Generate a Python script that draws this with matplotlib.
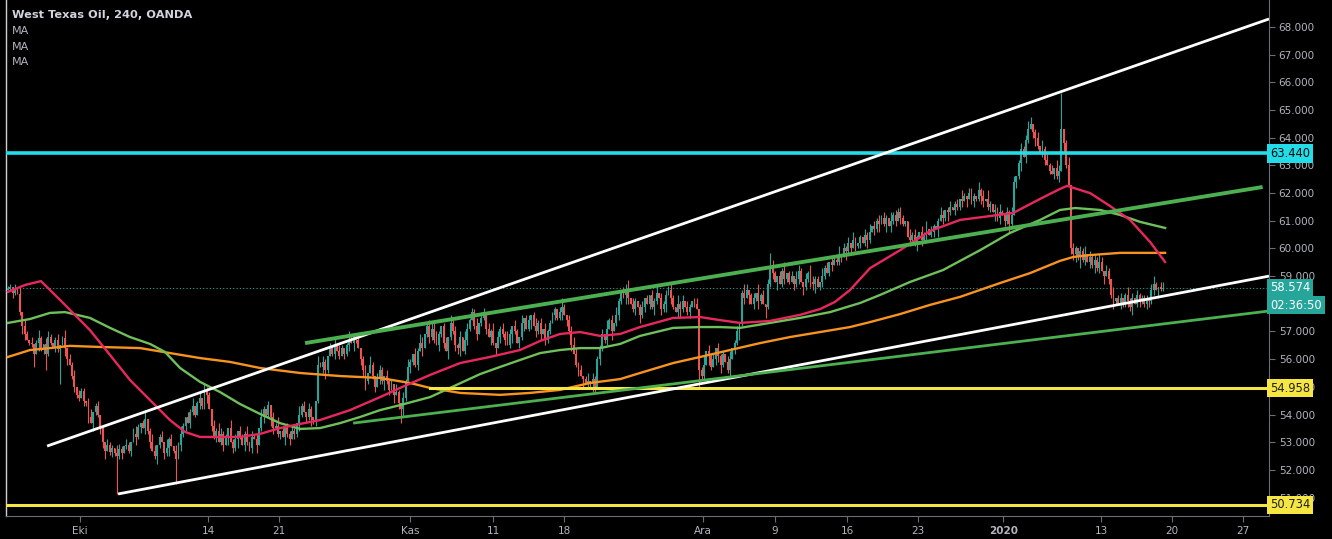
import numpy as np
import matplotlib
matplotlib.use("Agg")
import matplotlib.pyplot as plt
import matplotlib.transforms as mtransforms

# ---------------- data ----------------
title_text = "West Texas Oil, 240, OANDA"
legend_items = ["MA", "MA", "MA"]

# 4h closes, ten candles per row
closes_4h = [
    [58.55, 58.60, 58.40, 58.50, 58.35, 57.70, 57.20, 56.90, 56.70, 56.60],
    [56.55, 56.20, 56.60, 56.75, 56.40, 56.55, 56.20, 56.80, 56.60, 56.45],
    [56.70, 56.35, 56.50, 56.75, 56.40, 56.00, 55.80, 55.40, 55.00, 54.70],
    [54.60, 54.85, 54.50, 54.40, 53.90, 53.70, 54.10, 54.30, 54.00, 53.50],
    [53.00, 52.70, 52.90, 52.65, 52.80, 52.60, 52.50, 52.75, 52.60, 52.85],
    [52.90, 52.70, 53.00, 53.30, 53.20, 53.55, 53.70, 53.50, 53.85, 53.40],
    [53.00, 52.70, 52.50, 52.90, 53.20, 53.00, 52.60, 52.80, 53.10, 52.85],
    [52.70, 52.40, 52.90, 53.30, 53.60, 53.90, 53.70, 54.10, 54.30, 54.00],
    [54.40, 54.60, 54.30, 54.80, 54.70, 54.20, 53.60, 53.20, 53.40, 53.00],
    [53.30, 52.90, 53.20, 53.50, 53.00, 52.80, 53.10, 53.40, 53.20, 52.90],
    [53.30, 53.00, 52.80, 53.20, 53.10, 52.90, 53.50, 53.90, 54.20, 54.00],
    [54.35, 53.90, 53.50, 53.60, 53.30, 53.40, 53.20, 53.50, 53.30, 53.10],
    [53.40, 53.30, 53.70, 54.00, 54.30, 54.10, 53.90, 54.20, 53.90, 53.80],
    [54.50, 55.80, 55.70, 55.90, 55.60, 56.10, 56.40, 56.20, 56.50, 56.30],
    [56.10, 56.40, 56.20, 56.50, 56.70, 56.60, 56.80, 56.70, 56.40, 56.00],
    [55.60, 55.20, 55.50, 55.80, 55.40, 55.00, 55.30, 55.60, 55.20, 55.40],
    [55.20, 54.90, 55.10, 54.70, 54.80, 54.40, 54.20, 54.60, 55.20, 55.70],
    [55.90, 56.20, 55.80, 56.30, 56.60, 56.40, 56.90, 57.20, 56.80, 57.10],
    [56.70, 56.50, 56.90, 57.20, 56.60, 56.30, 56.80, 57.30, 57.00, 56.50],
    [56.40, 56.80, 56.30, 56.70, 57.10, 57.40, 57.70, 57.20, 56.90, 57.30],
    [57.50, 57.70, 57.10, 56.80, 57.00, 56.60, 56.40, 56.80, 57.10, 56.90],
    [56.70, 56.50, 56.90, 57.20, 57.00, 56.60, 56.80, 57.30, 57.50, 57.10],
    [57.40, 57.60, 57.20, 57.00, 57.30, 56.90, 57.10, 56.70, 57.00, 57.30],
    [57.60, 57.80, 57.50, 57.70, 57.90, 57.60, 57.40, 57.00, 56.50, 56.20],
    [55.80, 55.60, 55.40, 55.30, 55.15, 55.20, 55.10, 55.30, 55.00, 56.00],
    [56.40, 56.90, 56.70, 57.10, 57.40, 57.00, 57.30, 57.60, 58.10, 58.40],
    [58.30, 58.55, 58.20, 58.00, 57.80, 58.10, 57.90, 57.60, 57.90, 58.20],
    [58.00, 58.30, 57.90, 58.10, 58.40, 58.20, 57.80, 58.00, 58.30, 58.50],
    [58.20, 57.90, 57.70, 58.00, 57.80, 58.10, 57.90, 57.70, 57.90, 58.10],
    [58.00, 57.80, 55.60, 55.40, 55.80, 56.30, 56.10, 55.70, 56.00, 56.40],
    [56.10, 55.80, 56.20, 55.90, 55.60, 56.00, 56.40, 56.60, 57.00, 57.30],
    [58.40, 58.20, 58.50, 58.30, 58.00, 58.20, 58.40, 58.10, 58.30, 58.00],
    [57.90, 58.70, 59.30, 59.10, 58.80, 59.00, 58.70, 59.20, 58.90, 59.10],
    [58.80, 59.00, 58.70, 58.90, 59.20, 58.80, 58.60, 58.90, 59.10, 58.80],
    [58.70, 58.90, 58.60, 58.80, 59.00, 59.30, 59.10, 59.50, 59.40, 59.60],
    [59.50, 59.80, 59.70, 60.00, 59.90, 60.20, 60.00, 60.30, 60.10, 60.20],
    [60.40, 60.20, 60.50, 60.30, 60.60, 60.80, 60.70, 61.00, 60.90, 61.10],
    [60.90, 61.10, 60.80, 61.00, 61.20, 61.00, 61.30, 61.10, 60.90, 61.00],
    [60.40, 60.30, 60.50, 60.20, 60.40, 60.60, 60.30, 60.50, 60.70, 60.50],
    [60.60, 60.80, 60.70, 61.00, 61.20, 61.10, 61.40, 61.30, 61.50, 61.40],
    [61.60, 61.50, 61.80, 61.70, 61.90, 61.80, 62.00, 61.70, 61.90, 61.80],
    [62.10, 61.90, 61.70, 61.80, 61.50, 61.60, 61.30, 61.40, 61.10, 61.30],
    [61.20, 61.00, 61.30, 60.90, 61.20, 62.40, 62.60, 63.10, 63.60, 63.30],
    [63.90, 64.30, 64.50, 64.20, 64.00, 63.70, 63.40, 63.60, 63.20, 63.00],
    [62.80, 62.70, 62.90, 62.60, 62.80, 64.30, 63.80, 63.00, 62.30, 60.00],
    [59.80, 60.00, 59.70, 59.90, 59.60, 59.80, 59.50, 59.70, 59.40, 59.60],
    [59.30, 59.50, 59.20, 59.00, 59.20, 58.90, 58.30, 58.10, 58.20, 58.00],
    [58.20, 58.00, 58.30, 58.10, 57.90, 58.20, 58.00, 58.30, 58.10, 58.20],
    [58.00, 58.20, 58.10, 58.50, 58.70, 58.50, 58.60, 58.55, 58.574],
]
first_open = 58.50

# wick lengths above / below the body, in steps of wick_step
upper_wicks = ("1102130210 2013102210 1201302120 2110230120 1021103210 2102310120 "
               "1320120312 0213102130 1203210213 2110312021 1302120310 1021302121 "
               "2103120210 0312102130 2101320120 1203102210 2120310213 1021320121 "
               "2310120312 1203210130 2102130212 1320210301 2013120211 1102310223 "
               "2120130211 1203120310 2130210120 1021302120 2103120210 1201302120 "
               "2110230120 1320120312 0213102130 1203210213 2110312021 1302120310 "
               "1021302121 2103120210 0312102130 2101320120 1203102210 2120310213 "
               "1021320121 2310120312 1203210130 2102130212 1320210301 2013120211 "
               "110231022")
lower_wicks = ("0121013201 1203120110 2110320121 1021203112 2301210120 1120312021 "
               "2013102130 1302120211 0211302120 1203021310 2112030121 1320120312 "
               "0213102130 2102310120 1021203102 2310120213 1203021310 2112030121 "
               "1021203112 2301210120 1120312021 2013102130 1302120211 0211302120 "
               "1203021310 2112030121 1320120312 0213102130 2102310120 1021203102 "
               "2310120213 1203021310 2112030121 1021203112 2301210120 1120312021 "
               "2013102130 1302120211 0211302120 1203021310 2112030121 1320120312 "
               "0213102130 2102310120 1021203102 2310120213 1203021310 2112030121 "
               "102120311")
wick_step = 0.1
high_extremes = {58: 54.16, 83: 54.96, 110: 54.50, 147: 56.95, 179: 57.35,
                 196: 57.85, 201: 57.85, 234: 58.00, 261: 58.70, 279: 58.65,
                 322: 59.85, 376: 61.45, 410: 62.40, 432: 64.75, 445: 65.62}
low_extremes = {11: 55.70, 16: 55.60, 22: 55.10, 46: 51.13, 71: 51.50,
                129: 53.65, 166: 53.70, 248: 54.80, 292: 55.00, 320: 57.50,
                423: 60.65, 453: 59.30, 474: 57.75, 481: 57.80}

# x-axis labels (candle-index positions)
x_tick_pos = [30.2, 84.5, 114.5, 169.8, 204.9, 234.9, 293.6, 324.0,
              354.5, 384.4, 420.4, 461.8, 491.8, 521.8]
x_tick_labels = ["Eki", "14", "21", "Kas", "11", "18", "Ara", "9",
                 "16", "23", "2020", "13", "20", "27"]
y_ticks = list(range(51, 69))

# moving averages (candle index, price)
ma_red_x = [0, 7.2, 13.9, 22.0, 34.6, 43.1, 51.5, 60.0, 68.4, 74.8, 81.1, 98.0,
            106.5, 114.9, 123.4, 131.8, 144.5, 157.2, 165.6, 178.3, 191.0, 203.6,
            216.3, 224.8, 233.2, 241.7, 250.1, 258.6, 267.0, 281.0, 292.4, 300.8,
            309.3, 321.9, 334.6, 343.1, 349.4, 355.7, 364.2, 376.9, 389.5, 402.2,
            414.9, 424.6, 436.0, 444.4, 447.4, 457.1, 465.6, 474.0, 482.5, 488.8]
ma_red_y = [58.43, 58.68, 58.82, 58.14, 57.05, 56.15, 55.25, 54.52, 53.80, 53.37,
            53.19, 53.19, 53.30, 53.51, 53.66, 53.80, 54.16, 54.63, 54.96, 55.43,
            55.86, 56.08, 56.33, 56.66, 56.91, 56.98, 56.84, 56.91, 57.16, 57.49,
            57.52, 57.41, 57.31, 57.38, 57.60, 57.81, 58.07, 58.50, 59.29, 59.94,
            60.63, 61.03, 61.17, 61.28, 61.79, 62.15, 62.26, 62.00, 61.53, 61.03,
            60.23, 59.51]
ma_green_x = [0, 9.3, 17.7, 24.1, 34.6, 43.1, 51.5, 60.0, 66.3, 72.7, 81.1, 89.6,
              98.0, 106.5, 114.9, 123.4, 131.8, 140.3, 148.7, 157.2, 165.6, 178.3,
              186.7, 199.4, 207.9, 216.3, 224.8, 233.2, 241.7, 250.1, 258.6, 267.0,
              281.0, 292.4, 300.8, 309.3, 321.9, 334.6, 347.3, 360.0, 368.4, 381.1,
              395.0, 410.7, 423.3, 436.0, 444.4, 450.8, 461.3, 469.8, 478.2, 488.8]
ma_green_y = [57.31, 57.45, 57.67, 57.70, 57.49, 57.13, 56.80, 56.55, 56.26, 55.68,
              55.18, 54.81, 54.38, 54.02, 53.69, 53.48, 53.51, 53.69, 53.91, 54.16,
              54.34, 54.63, 54.96, 55.46, 55.72, 55.97, 56.22, 56.33, 56.40, 56.40,
              56.55, 56.84, 57.13, 57.16, 57.16, 57.13, 57.31, 57.49, 57.70, 58.03,
              58.32, 58.79, 59.22, 59.94, 60.56, 61.03, 61.39, 61.46, 61.39, 61.21,
              60.96, 60.74]
ma_orange_x = [0, 9.3, 17.7, 26.2, 38.9, 55.8, 68.4, 81.1, 93.8, 106.5, 123.4,
               140.3, 157.2, 169.8, 178.3, 191.0, 207.9, 220.5, 233.2, 245.9, 258.6,
               267.0, 281.0, 292.4, 305.0, 317.7, 330.4, 343.1, 355.7, 364.2, 376.9,
               389.5, 402.2, 419.1, 431.8, 444.4, 449.9, 457.1, 469.8, 488.8]
ma_orange_y = [56.08, 56.33, 56.40, 56.48, 56.44, 56.40, 56.22, 56.04, 55.90, 55.68,
               55.50, 55.39, 55.32, 55.14, 54.96, 54.78, 54.71, 54.78, 54.89, 55.14,
               55.28, 55.50, 55.86, 56.08, 56.33, 56.58, 56.80, 56.98, 57.16, 57.34,
               57.63, 57.96, 58.25, 58.75, 59.11, 59.55, 59.69, 59.76, 59.84, 59.84]

# drawn lines: (x0, y0, x1, y1)
white_upper = (16.5, 52.86, 532.7, 68.29)
white_lower = (46.5, 51.13, 532.7, 59.00)
green_upper = (125.5, 56.58, 530.0, 62.22)
green_lower = (145.8, 53.69, 532.7, 57.74)
cyan_level = 63.440
yellow_level_hi = 54.958
yellow_level_hi_start = 178.3
yellow_level_lo = 50.734
last_price = 58.574
countdown = "02:36:50"

x_min, x_max = -0.85, 532.7
y_min, y_max = 50.334, 68.975

# ---------------- figure ----------------
W, H, DPI = 1332, 539, 100
fig = plt.figure(figsize=(W / DPI, H / DPI), dpi=DPI, facecolor="black")
ax = fig.add_axes([6 / W, 23 / H, (1269 - 6) / W, 516 / H])
ax.set_facecolor("black")

closes = np.array([v for row in closes_4h for v in row])
n = len(closes)
opens = np.concatenate([[first_open], closes[:-1]])
up_d = np.array([int(ch) for ch in upper_wicks.replace(" ", "")])[:n]
lo_d = np.array([int(ch) for ch in lower_wicks.replace(" ", "")])[:n]
highs = np.maximum(opens, closes) + up_d * wick_step
lows = np.minimum(opens, closes) - lo_d * wick_step
for k, v in high_extremes.items():
    highs[k] = max(highs[k], v)
for k, v in low_extremes.items():
    lows[k] = min(lows[k], v)

xs = np.arange(n)
is_up = closes >= opens
cols = np.where(is_up, "#26a69a", "#ef5350")
ax.vlines(xs, lows, highs, colors=cols, lw=0.8, zorder=3)
ax.bar(xs, np.maximum(np.abs(closes - opens), 0.03), bottom=np.minimum(opens, closes),
       width=0.8, color=cols, lw=0, zorder=3)

# moving averages
for mx, my, col in [(ma_orange_x, ma_orange_y, "#f7931e"),
                    (ma_green_x, ma_green_y, "#6fbf5a"),
                    (ma_red_x, ma_red_y, "#e8275f")]:
    ax.plot(mx, my, color=col, lw=1.7, zorder=4, solid_joinstyle="round")

# horizontal levels
ax.axhline(cyan_level, color="#22dde8", lw=2.6, zorder=5)
ax.plot([yellow_level_hi_start, x_max], [yellow_level_hi] * 2, color="#f5e642", lw=2.2, zorder=5)
ax.axhline(yellow_level_lo, color="#f5e642", lw=2.2, zorder=5)
ax.axhline(last_price, color="#26a69a", lw=0.8, ls=(0, (1, 2)), zorder=2)

# trend lines
for ln, col, lw in [(white_upper, "white", 2.0), (white_lower, "white", 2.0),
                    (green_upper, "#4caf50", 2.8), (green_lower, "#4caf50", 2.0)]:
    ax.plot([ln[0], ln[2]], [ln[1], ln[3]], color=col, lw=lw, zorder=6,
            solid_capstyle="butt")

ax.set_xlim(x_min, x_max)
ax.set_ylim(y_min, y_max)

# axes styling
ax.spines["top"].set_visible(False)
ax.spines["left"].set_color("#d0d0d0")
ax.spines["left"].set_linewidth(1.0)
ax.spines["right"].set_color("#6a6d78")
ax.spines["bottom"].set_color("#6a6d78")

ax.yaxis.tick_right()
ax.set_yticks(y_ticks)
ax.set_yticklabels([f"{v:.3f}" for v in y_ticks])
ax.tick_params(axis="y", colors="#6a6d78", labelcolor="#b2b5be", labelsize=7.5,
               length=4, pad=3, left=False)
ax.set_xticks(x_tick_pos)
ax.set_xticklabels(x_tick_labels)
ax.tick_params(axis="x", colors="#6a6d78", labelcolor="#b2b5be", labelsize=7.5,
               length=4, pad=3)
for lbl in ax.get_xticklabels():
    if lbl.get_text() == "2020":
        lbl.set_fontweight("bold")

# right-side price tags
tr = mtransforms.blended_transform_factory(ax.transAxes, ax.transData)
tags = [(cyan_level, f"{cyan_level:.3f}", "#22dde8", "#0a0a0a"),
        (last_price, f"{last_price:.3f}", "#26a69a", "#ffffff"),
        (last_price - 0.62, countdown, "#26a69a", "#ffffff"),
        (yellow_level_hi, f"{yellow_level_hi:.3f}", "#f5e642", "#202020"),
        (yellow_level_lo, f"{yellow_level_lo:.3f}", "#f5e642", "#202020")]
for yv, txt, bg, fg in tags:
    ax.text(1.001, yv, txt, transform=tr, ha="left", va="center", fontsize=8.3,
            color=fg, zorder=10, clip_on=False,
            bbox=dict(boxstyle="square,pad=0.25", fc=bg, ec="none"))

# legend text
fig.text(12 / W, 1 - 15 / H, title_text, color="#d1d4dc", fontsize=8.2,
         fontweight="bold", va="center", ha="left")
for k, item in enumerate(legend_items):
    fig.text(12 / W, 1 - (31 + 15.5 * k) / H, item, color="#b2b5be", fontsize=8,
             va="center", ha="left")

fig.savefig("out.png", dpi=DPI, facecolor="black")
